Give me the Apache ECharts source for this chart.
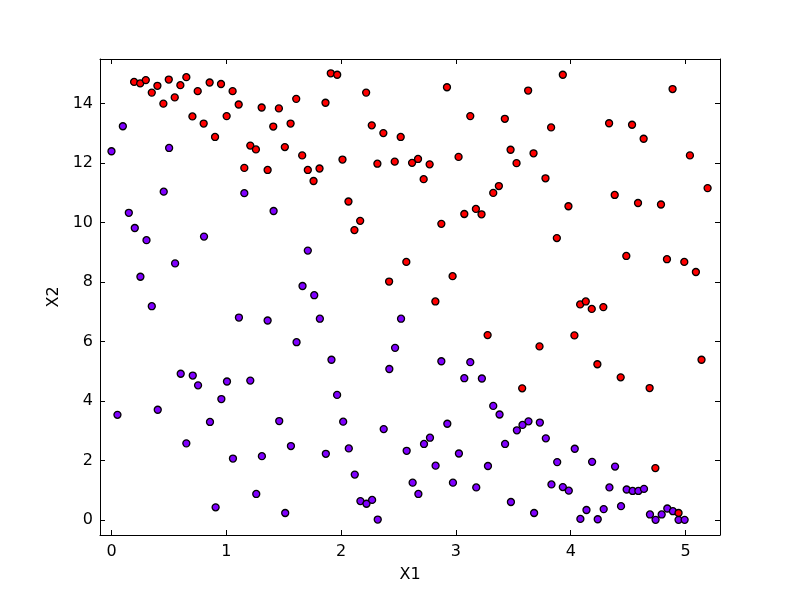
<!DOCTYPE html>
<html><head><meta charset="utf-8">
<script src="https://cdn.jsdelivr.net/npm/echarts@6/dist/echarts.min.js"></script>
<style>html,body{margin:0;padding:0;background:#fff}#c{width:800px;height:593px}</style>
</head><body><div id="c"></div>
<script>
const purpleX = [0.000,0.052,0.099,0.151,0.203,0.252,0.305,0.351,0.403,0.455,0.502,0.554,0.603,0.652,0.708,0.754,0.806,0.858,0.907,0.957,
1.006,1.058,1.110,1.157,1.209,1.261,1.310,1.360,1.412,1.461,1.513,1.563,1.612,1.664,1.710,1.766,1.815,1.867,1.916,1.965,
2.018,2.067,2.119,2.168,2.221,2.270,2.319,2.371,2.420,2.470,2.522,2.571,2.623,2.673,2.722,2.774,2.823,2.873,2.925,2.974,
3.026,3.073,3.125,3.177,3.226,3.279,3.325,3.380,3.428,3.479,3.531,3.580,3.632,3.681,3.731,3.783,3.832,3.882,3.931,3.983,
4.035,4.084,4.137,4.186,4.235,4.287,4.337,4.386,4.438,4.487,4.539,4.589,4.638,4.690,4.739,4.792,4.841,4.890,4.939,4.992];
const purpleY = [12.40,3.54,13.24,10.33,9.82,8.18,9.41,7.19,3.71,11.04,12.51,8.63,4.92,2.58,4.86,4.53,9.53,3.30,0.43,4.07,
4.66,2.07,6.81,10.99,4.69,0.88,2.15,6.71,10.39,3.33,0.24,2.49,5.98,7.87,9.06,7.56,6.77,2.23,5.39,4.21,
3.31,2.41,1.53,0.64,0.55,0.68,0.02,3.06,5.08,5.79,6.77,2.33,1.26,0.88,2.56,2.77,1.83,5.34,3.24,1.26,
2.24,4.77,5.31,1.10,4.76,1.82,3.84,3.55,2.56,0.61,3.02,3.20,3.32,0.24,3.28,2.75,1.20,1.95,1.11,0.99,
2.40,0.04,0.34,1.96,0.03,0.37,1.10,1.80,0.47,1.03,0.98,0.98,1.05,0.19,0.01,0.19,0.39,0.30,0.01,0.01];
const redX = [0.197,0.250,0.299,0.351,0.400,0.452,0.499,0.551,0.600,0.652,0.705,0.751,0.803,0.855,0.902,0.954,1.003,1.055,1.108,1.157,
1.209,1.258,1.308,1.360,1.409,1.458,1.510,1.560,1.609,1.661,1.710,1.760,1.812,1.864,1.910,1.966,2.012,2.064,2.116,2.166,
2.218,2.267,2.316,2.368,2.418,2.467,2.519,2.568,2.618,2.670,2.719,2.771,2.821,2.873,2.922,2.971,3.023,3.073,3.125,3.174,
3.223,3.276,3.325,3.374,3.426,3.476,3.528,3.577,3.629,3.676,3.728,3.780,3.829,3.879,3.931,3.980,4.032,4.082,4.131,4.183,
4.232,4.284,4.334,4.383,4.435,4.484,4.534,4.586,4.635,4.687,4.737,4.786,4.838,4.887,4.939,4.989,5.038,5.090,5.139,5.192];
const redY = [14.73,14.68,14.79,14.37,14.60,14.00,14.81,14.21,14.62,14.89,13.57,14.42,13.33,14.71,12.88,14.66,13.58,14.42,13.97,11.84,
12.59,12.46,13.87,11.77,13.23,13.84,12.54,13.33,14.16,12.26,11.77,11.40,11.82,14.03,15.02,14.97,12.12,10.71,9.75,10.06,
14.37,13.27,11.98,13.01,8.02,12.05,12.88,8.68,12.01,12.14,11.46,11.96,7.35,9.96,14.55,8.20,12.21,10.29,13.58,10.46,
10.28,6.22,11.00,11.23,13.49,12.45,12.00,4.43,14.44,12.33,5.84,11.49,13.20,9.48,14.97,10.55,6.21,7.25,7.35,7.10,
5.24,7.16,13.34,10.93,4.80,8.88,13.29,10.66,12.82,4.44,1.75,10.61,8.77,14.49,0.24,8.68,12.26,8.34,5.39,11.16];
const xTicks = [0,1,2,3,4,5];
const yTicks = [0,2,4,6,8,10,12,14];
const xName = 'X1', yName = 'X2';

const zip = (a,b) => a.map((v,i)=>[v,b[i]]);
const font = 'DejaVu Sans';
const tickStyle = {show:true, inside:true, length:5, lineStyle:{color:'#000',width:1}};
function xAx(pos, labels){
  return {type:'value', position:pos, min:-0.1, max:5.3,
    axisLine:{show:true,onZero:false,lineStyle:{color:'#000',width:1}},
    axisTick:Object.assign({customValues:xTicks},tickStyle),
    axisLabel:{show:labels, customValues:xTicks, color:'#000', fontFamily:font, fontSize:16, margin:9},
    splitLine:{show:false},
    name: labels?xName:'', nameLocation:'middle', nameGap:32,
    nameTextStyle:{color:'#000',fontFamily:font,fontSize:16}};
}
function yAx(pos, labels){
  return {type:'value', position:pos, min:-0.5, max:15.5,
    axisLine:{show:true,onZero:false,lineStyle:{color:'#000',width:1}},
    axisTick:Object.assign({customValues:yTicks},tickStyle),
    axisLabel:{show:labels, customValues:yTicks, color:'#000', fontFamily:font, fontSize:16, margin:7},
    splitLine:{show:false},
    name: labels?yName:'', nameLocation:'middle', nameGap:32, nameRotate:90,
    nameTextStyle:{color:'#000',fontFamily:font,fontSize:16}};
}
const chart = echarts.init(document.getElementById('c'), null, {renderer:'canvas'});
chart.setOption({
  animation:false,
  backgroundColor:'#fff',
  grid:{left:100,right:80,top:59,bottom:58,show:false},
  xAxis:[xAx('bottom',true), xAx('top',false)],
  yAxis:[yAx('left',true), yAx('right',false)],
  series:[
    {type:'scatter', xAxisIndex:0, yAxisIndex:0, data:zip(purpleX,purpleY), symbol:'circle', symbolSize:7,
     itemStyle:{color:'#8000ff',borderColor:'#000',borderWidth:1.3,opacity:1}},
    {type:'scatter', xAxisIndex:0, yAxisIndex:0, data:zip(redX,redY), symbol:'circle', symbolSize:7,
     itemStyle:{color:'#ff0000',borderColor:'#000',borderWidth:1.3,opacity:1}}
  ]
});
</script></body></html>
